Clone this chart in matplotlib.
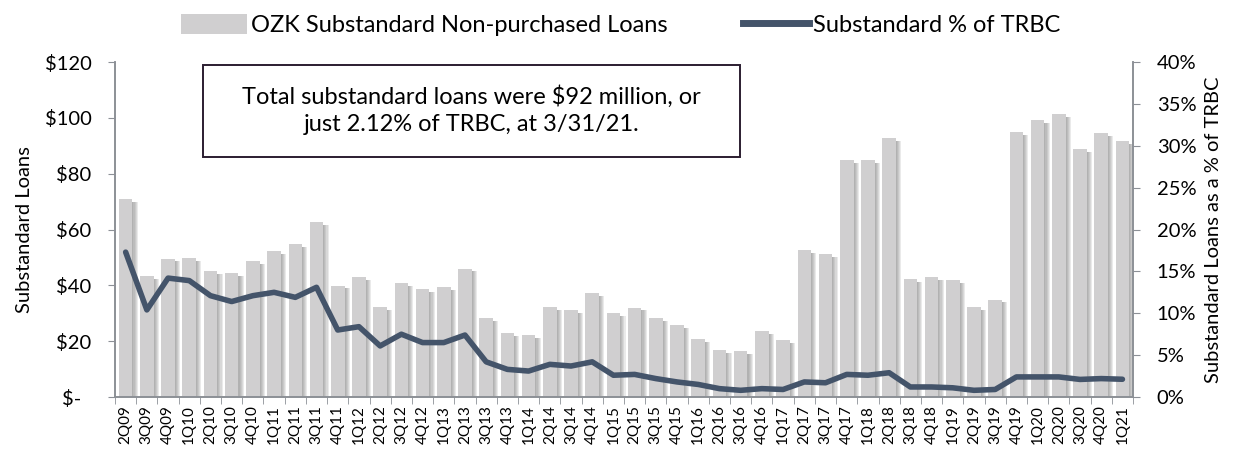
import matplotlib
matplotlib.use("Agg")
from matplotlib import pyplot as plt
from matplotlib.patches import Rectangle
from matplotlib.lines import Line2D
from matplotlib.ticker import FuncFormatter, FixedLocator
import numpy as np

plt.rcParams['font.family'] = ['Lato', 'DejaVu Sans']

# quarters, 2Q09 .. 1Q21
quarters = ["2Q09", "3Q09", "4Q09",
            "1Q10", "2Q10", "3Q10", "4Q10",
            "1Q11", "2Q11", "3Q11", "4Q11",
            "1Q12", "2Q12", "3Q12", "4Q12",
            "1Q13", "2Q13", "3Q13", "4Q13",
            "1Q14", "2Q14", "3Q14", "4Q14",
            "1Q15", "2Q15", "3Q15", "4Q15",
            "1Q16", "2Q16", "3Q16", "4Q16",
            "1Q17", "2Q17", "3Q17", "4Q17",
            "1Q18", "2Q18", "3Q18", "4Q18",
            "1Q19", "2Q19", "3Q19", "4Q19",
            "1Q20", "2Q20", "3Q20", "4Q20",
            "1Q21"]

# substandard non-purchased loans, $ millions
loans = [70.8, 43.3, 49.6,
         49.8, 45.1, 44.4, 48.7,
         52.2, 54.9, 62.6, 39.9,
         42.9, 32.1, 40.7, 38.6,
         39.5, 46.0, 28.4, 22.9,
         22.3, 32.1, 31.2, 37.1,
         30.1, 32.0, 28.3, 25.7,
         20.8, 16.7, 16.4, 23.5,
         20.4, 52.5, 51.2, 84.9,
         84.9, 92.8, 42.2, 42.9,
         42.0, 32.1, 34.9, 94.9,
         99.1, 101.3, 88.7, 94.4,
         91.8]

# substandard as % of TRBC
pct = [17.3, 10.4, 14.2,
       13.9, 12.1, 11.4, 12.1,
       12.5, 11.9, 13.1, 8.0,
       8.4, 6.1, 7.5, 6.5,
       6.5, 7.4, 4.2, 3.3,
       3.1, 3.9, 3.7, 4.2,
       2.6, 2.7, 2.2, 1.8,
       1.5, 1.0, 0.8, 1.0,
       0.9, 1.8, 1.7, 2.7,
       2.6, 2.9, 1.2, 1.2,
       1.1, 0.8, 0.9, 2.4,
       2.4, 2.4, 2.1, 2.2,
       2.12]

x = np.arange(len(quarters))
axis_grey = "#8c9096"
bar_grey = "#d0cfd0"
line_blue = "#44546a"

fig = plt.figure(figsize=(12.41, 4.51), dpi=100)
ax = fig.add_axes([0.0927, 0.1197, 0.8203, 0.7428])
ax2 = ax.twinx()
ax.set_zorder(1)
ax2.set_zorder(2)
ax.patch.set_visible(False)

# soft shadow to the right of each bar
for off in [0.05, 0.10, 0.15, 0.20, 0.25]:
    ax.bar(x + off, np.array(loans) - 1.0, width=0.64, color="#707070",
           alpha=0.14, linewidth=0, zorder=1)
ax.bar(x, loans, width=0.64, color=bar_grey, linewidth=0, zorder=2)

ax2.plot(x, pct, color=line_blue, linewidth=4.0, solid_joinstyle='round',
         solid_capstyle='round')

ax.set_xlim(-0.5, len(quarters) - 0.5)
ax.set_ylim(0, 120)
ax2.set_ylim(0, 40)

ax.set_yticks(np.arange(0, 121, 20))
ax.yaxis.set_major_formatter(FuncFormatter(lambda v, p: "$-  " if v == 0 else "${:.0f}".format(v)))
ax2.set_yticks(np.arange(0, 41, 5))
ax2.yaxis.set_major_formatter(FuncFormatter(lambda v, p: "{:.0f}%".format(v)))

ax.set_xticks(x)
ax.set_xticklabels(quarters, rotation=90, fontsize=11)
ax.tick_params(axis='x', which='major', length=0, pad=6)
ax.xaxis.set_minor_locator(FixedLocator(np.arange(-0.5, len(quarters), 1)))
ax.tick_params(axis='x', which='minor', length=5, color=axis_grey)

ax.tick_params(axis='y', labelsize=14.5, length=5, color=axis_grey, pad=12)
ax2.tick_params(axis='y', labelsize=14.5, length=5, color=axis_grey, pad=12)

for a in (ax, ax2):
    a.spines['top'].set_visible(False)
    for s in ('left', 'right', 'bottom'):
        a.spines[s].set_color(axis_grey)
        a.spines[s].set_linewidth(1.2)

ax.set_ylabel("Substandard Loans", fontsize=14.5, labelpad=8)
ax2.set_ylabel("Substandard Loans as a % of TRBC", fontsize=14.5, labelpad=6)

# callout box
ax2.add_patch(Rectangle((0.0864, 0.716), 0.528, 0.275, transform=ax2.transAxes,
                        facecolor="white", edgecolor="#2b1d30", linewidth=1.4, zorder=5))
ax2.text(0.350, 0.856, "Total substandard loans were $92 million, or\njust 2.12% of TRBC, at 3/31/21.",
         transform=ax2.transAxes, ha='center', va='center', fontsize=17,
         linespacing=1.4, zorder=6)

handles = [Rectangle((0, 0), 1, 1, facecolor=bar_grey, edgecolor='none'),
           Line2D([0], [0], color=line_blue, linewidth=5)]
fig.legend(handles, ["OZK Substandard Non-purchased Loans", "Substandard % of TRBC"],
           loc='upper center', bbox_to_anchor=(0.5, 1.015), ncol=2, frameon=False,
           fontsize=17, handlelength=2.8, handleheight=0.9, handletextpad=0.15,
           columnspacing=3.2)

fig.savefig("out.png", dpi=100)
